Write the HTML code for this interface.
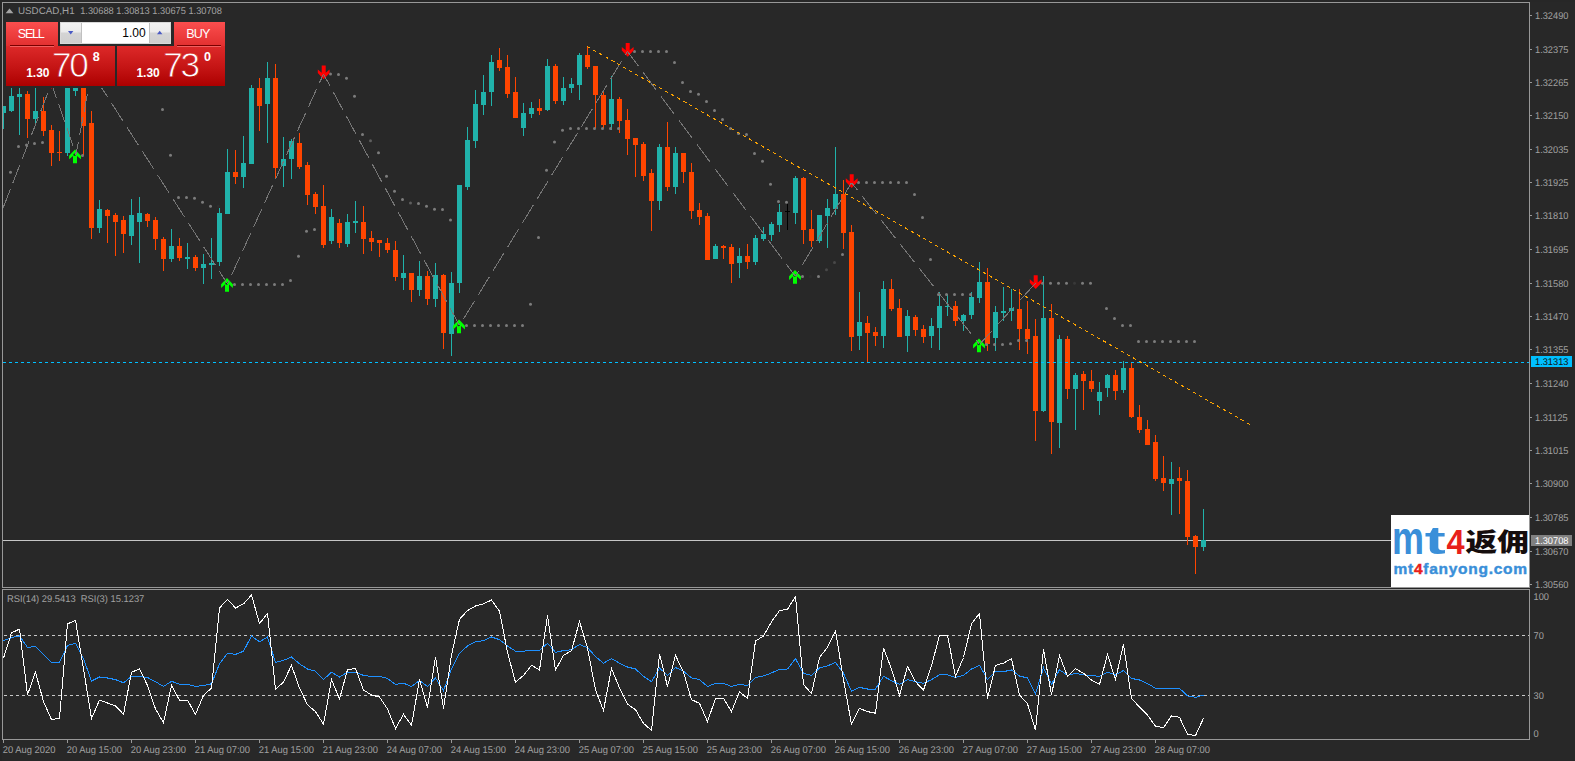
<!DOCTYPE html>
<html><head><meta charset="utf-8"><title>USDCAD,H1</title>
<style>
html,body{margin:0;padding:0;background:#282828;}
body{width:1575px;height:761px;position:relative;overflow:hidden;font-family:"Liberation Sans",sans-serif;}
.abs{position:absolute;}
.red{background:linear-gradient(#fb4e4e 0%,#de2a2a 38%,#c81616 70%,#ad0000 100%);}
.w{color:#fff;position:absolute;white-space:nowrap;line-height:1;}
#logo{left:1391px;top:515px;width:138px;height:72px;background:#fff;overflow:hidden;}
</style></head><body>
<svg width="1575" height="761" viewBox="0 0 1575 761" style="position:absolute;left:0;top:0">
<rect x="0" y="0" width="2" height="761" fill="#262626"/>
<rect x="0" y="0" width="1575" height="2" fill="#272727"/>
<defs><clipPath id="cm"><rect x="3" y="3" width="1526" height="584"/></clipPath><clipPath id="cr"><rect x="3" y="590" width="1526" height="149"/></clipPath></defs>
<g clip-path="url(#cm)">
<rect x="3" y="540" width="1526" height="1" fill="#c6c6c6" shape-rendering="crispEdges"/>
<g shape-rendering="crispEdges">
<rect x="3" y="106" width="1" height="23" fill="#20b2aa"/>
<rect x="1" y="106" width="5" height="7" fill="#20b2aa"/>
<rect x="11" y="80" width="1" height="32" fill="#20b2aa"/>
<rect x="9" y="96" width="5" height="15" fill="#20b2aa"/>
<rect x="19" y="80" width="1" height="55" fill="#20b2aa"/>
<rect x="17" y="94" width="5" height="3" fill="#20b2aa"/>
<rect x="27" y="91" width="1" height="47" fill="#ff4500"/>
<rect x="25" y="94" width="5" height="25" fill="#ff4500"/>
<rect x="35" y="80" width="1" height="43" fill="#20b2aa"/>
<rect x="33" y="111" width="5" height="8" fill="#20b2aa"/>
<rect x="43" y="97" width="1" height="39" fill="#ff4500"/>
<rect x="41" y="111" width="5" height="20" fill="#ff4500"/>
<rect x="51" y="125" width="1" height="41" fill="#ff4500"/>
<rect x="49" y="130" width="5" height="23" fill="#ff4500"/>
<rect x="59" y="131" width="1" height="30" fill="#ff4500"/>
<rect x="57" y="152" width="5" height="1" fill="#ff4500"/>
<rect x="67" y="80" width="1" height="76" fill="#20b2aa"/>
<rect x="65" y="88" width="5" height="65" fill="#20b2aa"/>
<rect x="75" y="80" width="1" height="16" fill="#20b2aa"/>
<rect x="73" y="88" width="5" height="3" fill="#20b2aa"/>
<rect x="83" y="80" width="1" height="75" fill="#ff4500"/>
<rect x="81" y="80" width="5" height="46" fill="#ff4500"/>
<rect x="91" y="111" width="1" height="128" fill="#ff4500"/>
<rect x="89" y="123" width="5" height="105" fill="#ff4500"/>
<rect x="99" y="200" width="1" height="33" fill="#20b2aa"/>
<rect x="97" y="209" width="5" height="19" fill="#20b2aa"/>
<rect x="107" y="209" width="1" height="34" fill="#ff4500"/>
<rect x="105" y="210" width="5" height="6" fill="#ff4500"/>
<rect x="115" y="213" width="1" height="43" fill="#ff4500"/>
<rect x="113" y="215" width="5" height="7" fill="#ff4500"/>
<rect x="123" y="216" width="1" height="37" fill="#ff4500"/>
<rect x="121" y="220" width="5" height="14" fill="#ff4500"/>
<rect x="131" y="199" width="1" height="46" fill="#20b2aa"/>
<rect x="129" y="215" width="5" height="21" fill="#20b2aa"/>
<rect x="139" y="197" width="1" height="66" fill="#20b2aa"/>
<rect x="137" y="213" width="5" height="9" fill="#20b2aa"/>
<rect x="147" y="213" width="1" height="14" fill="#ff4500"/>
<rect x="145" y="214" width="5" height="7" fill="#ff4500"/>
<rect x="155" y="217" width="1" height="33" fill="#ff4500"/>
<rect x="153" y="220" width="5" height="19" fill="#ff4500"/>
<rect x="163" y="237" width="1" height="34" fill="#ff4500"/>
<rect x="161" y="239" width="5" height="20" fill="#ff4500"/>
<rect x="171" y="229" width="1" height="33" fill="#20b2aa"/>
<rect x="169" y="246" width="5" height="13" fill="#20b2aa"/>
<rect x="179" y="238" width="1" height="23" fill="#ff4500"/>
<rect x="177" y="246" width="5" height="12" fill="#ff4500"/>
<rect x="187" y="243" width="1" height="26" fill="#20b2aa"/>
<rect x="185" y="257" width="5" height="2" fill="#20b2aa"/>
<rect x="195" y="255" width="1" height="16" fill="#ff4500"/>
<rect x="193" y="257" width="5" height="11" fill="#ff4500"/>
<rect x="203" y="254" width="1" height="30" fill="#20b2aa"/>
<rect x="201" y="264" width="5" height="4" fill="#20b2aa"/>
<rect x="211" y="238" width="1" height="41" fill="#20b2aa"/>
<rect x="209" y="263" width="5" height="2" fill="#20b2aa"/>
<rect x="219" y="208" width="1" height="58" fill="#20b2aa"/>
<rect x="217" y="213" width="5" height="49" fill="#20b2aa"/>
<rect x="227" y="149" width="1" height="65" fill="#20b2aa"/>
<rect x="225" y="172" width="5" height="42" fill="#20b2aa"/>
<rect x="235" y="150" width="1" height="34" fill="#ff4500"/>
<rect x="233" y="172" width="5" height="5" fill="#ff4500"/>
<rect x="243" y="136" width="1" height="52" fill="#20b2aa"/>
<rect x="241" y="163" width="5" height="14" fill="#20b2aa"/>
<rect x="251" y="85" width="1" height="79" fill="#20b2aa"/>
<rect x="249" y="88" width="5" height="76" fill="#20b2aa"/>
<rect x="259" y="78" width="1" height="53" fill="#ff4500"/>
<rect x="257" y="88" width="5" height="18" fill="#ff4500"/>
<rect x="267" y="62" width="1" height="81" fill="#20b2aa"/>
<rect x="265" y="78" width="5" height="26" fill="#20b2aa"/>
<rect x="275" y="64" width="1" height="114" fill="#ff4500"/>
<rect x="273" y="78" width="5" height="90" fill="#ff4500"/>
<rect x="283" y="137" width="1" height="50" fill="#20b2aa"/>
<rect x="281" y="159" width="5" height="7" fill="#20b2aa"/>
<rect x="291" y="139" width="1" height="40" fill="#20b2aa"/>
<rect x="289" y="141" width="5" height="18" fill="#20b2aa"/>
<rect x="299" y="133" width="1" height="36" fill="#ff4500"/>
<rect x="297" y="143" width="5" height="24" fill="#ff4500"/>
<rect x="307" y="162" width="1" height="43" fill="#ff4500"/>
<rect x="305" y="165" width="5" height="30" fill="#ff4500"/>
<rect x="315" y="192" width="1" height="22" fill="#ff4500"/>
<rect x="313" y="194" width="5" height="13" fill="#ff4500"/>
<rect x="323" y="185" width="1" height="63" fill="#ff4500"/>
<rect x="321" y="206" width="5" height="39" fill="#ff4500"/>
<rect x="331" y="209" width="1" height="35" fill="#20b2aa"/>
<rect x="329" y="217" width="5" height="24" fill="#20b2aa"/>
<rect x="339" y="219" width="1" height="29" fill="#ff4500"/>
<rect x="337" y="223" width="5" height="20" fill="#ff4500"/>
<rect x="347" y="214" width="1" height="33" fill="#20b2aa"/>
<rect x="345" y="222" width="5" height="22" fill="#20b2aa"/>
<rect x="355" y="201" width="1" height="32" fill="#20b2aa"/>
<rect x="353" y="221" width="5" height="2" fill="#20b2aa"/>
<rect x="363" y="206" width="1" height="48" fill="#ff4500"/>
<rect x="361" y="222" width="5" height="17" fill="#ff4500"/>
<rect x="371" y="231" width="1" height="20" fill="#ff4500"/>
<rect x="369" y="238" width="5" height="4" fill="#ff4500"/>
<rect x="379" y="240" width="1" height="17" fill="#ff4500"/>
<rect x="377" y="240" width="5" height="3" fill="#ff4500"/>
<rect x="387" y="238" width="1" height="15" fill="#ff4500"/>
<rect x="385" y="243" width="5" height="7" fill="#ff4500"/>
<rect x="395" y="241" width="1" height="40" fill="#ff4500"/>
<rect x="393" y="250" width="5" height="27" fill="#ff4500"/>
<rect x="403" y="255" width="1" height="35" fill="#20b2aa"/>
<rect x="401" y="273" width="5" height="5" fill="#20b2aa"/>
<rect x="411" y="273" width="1" height="29" fill="#ff4500"/>
<rect x="409" y="273" width="5" height="17" fill="#ff4500"/>
<rect x="419" y="261" width="1" height="35" fill="#20b2aa"/>
<rect x="417" y="276" width="5" height="14" fill="#20b2aa"/>
<rect x="427" y="271" width="1" height="34" fill="#ff4500"/>
<rect x="425" y="276" width="5" height="23" fill="#ff4500"/>
<rect x="435" y="263" width="1" height="44" fill="#20b2aa"/>
<rect x="433" y="275" width="5" height="24" fill="#20b2aa"/>
<rect x="443" y="274" width="1" height="75" fill="#ff4500"/>
<rect x="441" y="275" width="5" height="58" fill="#ff4500"/>
<rect x="451" y="272" width="1" height="84" fill="#20b2aa"/>
<rect x="449" y="283" width="5" height="51" fill="#20b2aa"/>
<rect x="459" y="185" width="1" height="108" fill="#20b2aa"/>
<rect x="457" y="185" width="5" height="98" fill="#20b2aa"/>
<rect x="467" y="127" width="1" height="63" fill="#20b2aa"/>
<rect x="465" y="140" width="5" height="47" fill="#20b2aa"/>
<rect x="475" y="90" width="1" height="58" fill="#20b2aa"/>
<rect x="473" y="104" width="5" height="37" fill="#20b2aa"/>
<rect x="483" y="75" width="1" height="40" fill="#20b2aa"/>
<rect x="481" y="92" width="5" height="13" fill="#20b2aa"/>
<rect x="491" y="55" width="1" height="51" fill="#20b2aa"/>
<rect x="489" y="62" width="5" height="30" fill="#20b2aa"/>
<rect x="499" y="48" width="1" height="23" fill="#ff4500"/>
<rect x="497" y="60" width="5" height="8" fill="#ff4500"/>
<rect x="507" y="55" width="1" height="43" fill="#ff4500"/>
<rect x="505" y="67" width="5" height="27" fill="#ff4500"/>
<rect x="515" y="77" width="1" height="41" fill="#ff4500"/>
<rect x="513" y="92" width="5" height="26" fill="#ff4500"/>
<rect x="523" y="103" width="1" height="33" fill="#20b2aa"/>
<rect x="521" y="113" width="5" height="15" fill="#20b2aa"/>
<rect x="531" y="102" width="1" height="16" fill="#20b2aa"/>
<rect x="529" y="108" width="5" height="6" fill="#20b2aa"/>
<rect x="539" y="99" width="1" height="16" fill="#ff4500"/>
<rect x="537" y="108" width="5" height="3" fill="#ff4500"/>
<rect x="547" y="59" width="1" height="52" fill="#20b2aa"/>
<rect x="545" y="66" width="5" height="44" fill="#20b2aa"/>
<rect x="555" y="64" width="1" height="40" fill="#ff4500"/>
<rect x="553" y="66" width="5" height="35" fill="#ff4500"/>
<rect x="563" y="77" width="1" height="28" fill="#20b2aa"/>
<rect x="561" y="88" width="5" height="13" fill="#20b2aa"/>
<rect x="571" y="78" width="1" height="15" fill="#20b2aa"/>
<rect x="569" y="84" width="5" height="4" fill="#20b2aa"/>
<rect x="579" y="53" width="1" height="47" fill="#20b2aa"/>
<rect x="577" y="55" width="5" height="30" fill="#20b2aa"/>
<rect x="587" y="47" width="1" height="22" fill="#ff4500"/>
<rect x="585" y="55" width="5" height="12" fill="#ff4500"/>
<rect x="595" y="66" width="1" height="62" fill="#ff4500"/>
<rect x="593" y="66" width="5" height="29" fill="#ff4500"/>
<rect x="603" y="91" width="1" height="37" fill="#ff4500"/>
<rect x="601" y="95" width="5" height="30" fill="#ff4500"/>
<rect x="611" y="76" width="1" height="54" fill="#20b2aa"/>
<rect x="609" y="99" width="5" height="25" fill="#20b2aa"/>
<rect x="619" y="97" width="1" height="36" fill="#ff4500"/>
<rect x="617" y="99" width="5" height="22" fill="#ff4500"/>
<rect x="627" y="109" width="1" height="46" fill="#ff4500"/>
<rect x="625" y="120" width="5" height="19" fill="#ff4500"/>
<rect x="635" y="138" width="1" height="39" fill="#ff4500"/>
<rect x="633" y="138" width="5" height="7" fill="#ff4500"/>
<rect x="643" y="142" width="1" height="39" fill="#ff4500"/>
<rect x="641" y="144" width="5" height="32" fill="#ff4500"/>
<rect x="651" y="169" width="1" height="62" fill="#ff4500"/>
<rect x="649" y="173" width="5" height="28" fill="#ff4500"/>
<rect x="659" y="144" width="1" height="66" fill="#20b2aa"/>
<rect x="657" y="147" width="5" height="54" fill="#20b2aa"/>
<rect x="667" y="122" width="1" height="69" fill="#ff4500"/>
<rect x="665" y="147" width="5" height="40" fill="#ff4500"/>
<rect x="675" y="147" width="1" height="47" fill="#20b2aa"/>
<rect x="673" y="153" width="5" height="34" fill="#20b2aa"/>
<rect x="683" y="153" width="1" height="30" fill="#ff4500"/>
<rect x="681" y="153" width="5" height="19" fill="#ff4500"/>
<rect x="691" y="163" width="1" height="56" fill="#ff4500"/>
<rect x="689" y="172" width="5" height="39" fill="#ff4500"/>
<rect x="699" y="203" width="1" height="22" fill="#ff4500"/>
<rect x="697" y="210" width="5" height="7" fill="#ff4500"/>
<rect x="707" y="213" width="1" height="47" fill="#ff4500"/>
<rect x="705" y="216" width="5" height="44" fill="#ff4500"/>
<rect x="715" y="244" width="1" height="15" fill="#20b2aa"/>
<rect x="713" y="246" width="5" height="13" fill="#20b2aa"/>
<rect x="723" y="245" width="1" height="14" fill="#ff4500"/>
<rect x="721" y="246" width="5" height="2" fill="#ff4500"/>
<rect x="731" y="244" width="1" height="39" fill="#ff4500"/>
<rect x="729" y="247" width="5" height="17" fill="#ff4500"/>
<rect x="739" y="248" width="1" height="30" fill="#20b2aa"/>
<rect x="737" y="256" width="5" height="7" fill="#20b2aa"/>
<rect x="747" y="244" width="1" height="25" fill="#ff4500"/>
<rect x="745" y="256" width="5" height="6" fill="#ff4500"/>
<rect x="755" y="235" width="1" height="30" fill="#20b2aa"/>
<rect x="753" y="238" width="5" height="24" fill="#20b2aa"/>
<rect x="763" y="227" width="1" height="14" fill="#20b2aa"/>
<rect x="761" y="234" width="5" height="5" fill="#20b2aa"/>
<rect x="771" y="222" width="1" height="19" fill="#20b2aa"/>
<rect x="769" y="224" width="5" height="11" fill="#20b2aa"/>
<rect x="779" y="204" width="1" height="28" fill="#20b2aa"/>
<rect x="777" y="212" width="5" height="13" fill="#20b2aa"/>
<rect x="787" y="204" width="1" height="26" fill="#000000"/>
<rect x="785" y="211" width="5" height="1" fill="#000000"/>
<rect x="795" y="176" width="1" height="48" fill="#20b2aa"/>
<rect x="793" y="178" width="5" height="35" fill="#20b2aa"/>
<rect x="803" y="177" width="1" height="67" fill="#ff4500"/>
<rect x="801" y="178" width="5" height="52" fill="#ff4500"/>
<rect x="811" y="210" width="1" height="37" fill="#ff4500"/>
<rect x="809" y="229" width="5" height="12" fill="#ff4500"/>
<rect x="819" y="215" width="1" height="28" fill="#20b2aa"/>
<rect x="817" y="215" width="5" height="26" fill="#20b2aa"/>
<rect x="827" y="199" width="1" height="49" fill="#20b2aa"/>
<rect x="825" y="208" width="5" height="8" fill="#20b2aa"/>
<rect x="835" y="147" width="1" height="68" fill="#20b2aa"/>
<rect x="833" y="194" width="5" height="15" fill="#20b2aa"/>
<rect x="843" y="180" width="1" height="69" fill="#ff4500"/>
<rect x="841" y="194" width="5" height="39" fill="#ff4500"/>
<rect x="851" y="225" width="1" height="126" fill="#ff4500"/>
<rect x="849" y="232" width="5" height="105" fill="#ff4500"/>
<rect x="859" y="292" width="1" height="58" fill="#20b2aa"/>
<rect x="857" y="322" width="5" height="14" fill="#20b2aa"/>
<rect x="867" y="316" width="1" height="46" fill="#ff4500"/>
<rect x="865" y="323" width="5" height="10" fill="#ff4500"/>
<rect x="875" y="327" width="1" height="19" fill="#ff4500"/>
<rect x="873" y="332" width="5" height="4" fill="#ff4500"/>
<rect x="883" y="281" width="1" height="67" fill="#20b2aa"/>
<rect x="881" y="289" width="5" height="47" fill="#20b2aa"/>
<rect x="891" y="279" width="1" height="32" fill="#ff4500"/>
<rect x="889" y="289" width="5" height="20" fill="#ff4500"/>
<rect x="899" y="299" width="1" height="38" fill="#ff4500"/>
<rect x="897" y="308" width="5" height="29" fill="#ff4500"/>
<rect x="907" y="310" width="1" height="42" fill="#20b2aa"/>
<rect x="905" y="316" width="5" height="20" fill="#20b2aa"/>
<rect x="915" y="315" width="1" height="21" fill="#ff4500"/>
<rect x="913" y="317" width="5" height="13" fill="#ff4500"/>
<rect x="923" y="325" width="1" height="18" fill="#ff4500"/>
<rect x="921" y="329" width="5" height="8" fill="#ff4500"/>
<rect x="931" y="318" width="1" height="30" fill="#20b2aa"/>
<rect x="929" y="326" width="5" height="10" fill="#20b2aa"/>
<rect x="939" y="292" width="1" height="58" fill="#20b2aa"/>
<rect x="937" y="306" width="5" height="22" fill="#20b2aa"/>
<rect x="947" y="294" width="1" height="22" fill="#20b2aa"/>
<rect x="945" y="306" width="5" height="1" fill="#20b2aa"/>
<rect x="955" y="301" width="1" height="25" fill="#ff4500"/>
<rect x="953" y="306" width="5" height="15" fill="#ff4500"/>
<rect x="963" y="314" width="1" height="17" fill="#20b2aa"/>
<rect x="961" y="315" width="5" height="6" fill="#20b2aa"/>
<rect x="971" y="292" width="1" height="27" fill="#20b2aa"/>
<rect x="969" y="297" width="5" height="18" fill="#20b2aa"/>
<rect x="979" y="262" width="1" height="41" fill="#20b2aa"/>
<rect x="977" y="282" width="5" height="16" fill="#20b2aa"/>
<rect x="987" y="268" width="1" height="83" fill="#ff4500"/>
<rect x="985" y="282" width="5" height="62" fill="#ff4500"/>
<rect x="995" y="306" width="1" height="45" fill="#20b2aa"/>
<rect x="993" y="312" width="5" height="26" fill="#20b2aa"/>
<rect x="1003" y="287" width="1" height="34" fill="#20b2aa"/>
<rect x="1001" y="311" width="5" height="2" fill="#20b2aa"/>
<rect x="1011" y="289" width="1" height="32" fill="#20b2aa"/>
<rect x="1009" y="308" width="5" height="3" fill="#20b2aa"/>
<rect x="1019" y="289" width="1" height="61" fill="#ff4500"/>
<rect x="1017" y="309" width="5" height="20" fill="#ff4500"/>
<rect x="1027" y="301" width="1" height="53" fill="#ff4500"/>
<rect x="1025" y="329" width="5" height="10" fill="#ff4500"/>
<rect x="1035" y="319" width="1" height="122" fill="#ff4500"/>
<rect x="1033" y="336" width="5" height="75" fill="#ff4500"/>
<rect x="1043" y="276" width="1" height="136" fill="#20b2aa"/>
<rect x="1041" y="318" width="5" height="93" fill="#20b2aa"/>
<rect x="1051" y="304" width="1" height="150" fill="#ff4500"/>
<rect x="1049" y="318" width="5" height="104" fill="#ff4500"/>
<rect x="1059" y="335" width="1" height="113" fill="#20b2aa"/>
<rect x="1057" y="339" width="5" height="84" fill="#20b2aa"/>
<rect x="1067" y="336" width="1" height="63" fill="#ff4500"/>
<rect x="1065" y="339" width="5" height="50" fill="#ff4500"/>
<rect x="1075" y="373" width="1" height="57" fill="#20b2aa"/>
<rect x="1073" y="375" width="5" height="14" fill="#20b2aa"/>
<rect x="1083" y="371" width="1" height="39" fill="#ff4500"/>
<rect x="1081" y="374" width="5" height="7" fill="#ff4500"/>
<rect x="1091" y="370" width="1" height="22" fill="#ff4500"/>
<rect x="1089" y="381" width="5" height="8" fill="#ff4500"/>
<rect x="1099" y="382" width="1" height="33" fill="#20b2aa"/>
<rect x="1097" y="392" width="5" height="9" fill="#20b2aa"/>
<rect x="1107" y="374" width="1" height="23" fill="#20b2aa"/>
<rect x="1105" y="375" width="5" height="13" fill="#20b2aa"/>
<rect x="1115" y="370" width="1" height="30" fill="#ff4500"/>
<rect x="1113" y="375" width="5" height="16" fill="#ff4500"/>
<rect x="1123" y="361" width="1" height="32" fill="#20b2aa"/>
<rect x="1121" y="368" width="5" height="22" fill="#20b2aa"/>
<rect x="1131" y="363" width="1" height="55" fill="#ff4500"/>
<rect x="1129" y="368" width="5" height="49" fill="#ff4500"/>
<rect x="1139" y="405" width="1" height="28" fill="#ff4500"/>
<rect x="1137" y="417" width="5" height="13" fill="#ff4500"/>
<rect x="1147" y="420" width="1" height="25" fill="#ff4500"/>
<rect x="1145" y="429" width="5" height="16" fill="#ff4500"/>
<rect x="1155" y="435" width="1" height="46" fill="#ff4500"/>
<rect x="1153" y="442" width="5" height="37" fill="#ff4500"/>
<rect x="1163" y="456" width="1" height="35" fill="#ff4500"/>
<rect x="1161" y="478" width="5" height="5" fill="#ff4500"/>
<rect x="1171" y="462" width="1" height="53" fill="#20b2aa"/>
<rect x="1169" y="479" width="5" height="5" fill="#20b2aa"/>
<rect x="1179" y="467" width="1" height="47" fill="#ff4500"/>
<rect x="1177" y="478" width="5" height="3" fill="#ff4500"/>
<rect x="1187" y="470" width="1" height="75" fill="#ff4500"/>
<rect x="1185" y="481" width="5" height="56" fill="#ff4500"/>
<rect x="1195" y="535" width="1" height="39" fill="#ff4500"/>
<rect x="1193" y="536" width="5" height="11" fill="#ff4500"/>
<rect x="1203" y="509" width="1" height="42" fill="#20b2aa"/>
<rect x="1201" y="540" width="5" height="7" fill="#20b2aa"/>
</g>
<circle cx="2.5" cy="206.8" r="1.5" fill="#7c7c7c"/>
<circle cx="10.5" cy="172.2" r="1.5" fill="#7c7c7c"/>
<circle cx="18.5" cy="146.4" r="1.5" fill="#7c7c7c"/>
<circle cx="26.5" cy="145.1" r="1.5" fill="#7c7c7c"/>
<circle cx="34.5" cy="143.5" r="1.5" fill="#7c7c7c"/>
<circle cx="42.5" cy="142.5" r="1.5" fill="#7c7c7c"/>
<circle cx="82.5" cy="155.4" r="1.5" fill="#7c7c7c"/>
<circle cx="162.5" cy="109.4" r="1.5" fill="#7c7c7c"/>
<circle cx="170.5" cy="155.3" r="1.5" fill="#7c7c7c"/>
<circle cx="178.5" cy="197.4" r="1.5" fill="#7c7c7c"/>
<circle cx="186.5" cy="197.4" r="1.5" fill="#7c7c7c"/>
<circle cx="194.5" cy="198.3" r="1.5" fill="#7c7c7c"/>
<circle cx="202.5" cy="202.2" r="1.5" fill="#7c7c7c"/>
<circle cx="210.5" cy="206.3" r="1.5" fill="#7c7c7c"/>
<circle cx="218.5" cy="206.3" r="1.5" fill="#2e2e2e"/>
<circle cx="234.5" cy="284.4" r="1.5" fill="#7c7c7c"/>
<circle cx="242.5" cy="284.4" r="1.5" fill="#7c7c7c"/>
<circle cx="250.5" cy="284.4" r="1.5" fill="#7c7c7c"/>
<circle cx="258.5" cy="284.4" r="1.5" fill="#7c7c7c"/>
<circle cx="266.5" cy="284.4" r="1.5" fill="#7c7c7c"/>
<circle cx="274.5" cy="284.4" r="1.5" fill="#7c7c7c"/>
<circle cx="282.5" cy="284.4" r="1.5" fill="#7c7c7c"/>
<circle cx="290.5" cy="280.6" r="1.5" fill="#7c7c7c"/>
<circle cx="298.5" cy="256.2" r="1.5" fill="#7c7c7c"/>
<circle cx="306.5" cy="231.3" r="1.5" fill="#7c7c7c"/>
<circle cx="314.5" cy="229.5" r="1.5" fill="#7c7c7c"/>
<circle cx="330.5" cy="74" r="1.5" fill="#7c7c7c"/>
<circle cx="338.5" cy="74.5" r="1.5" fill="#7c7c7c"/>
<circle cx="346.5" cy="78.3" r="1.5" fill="#7c7c7c"/>
<circle cx="354.5" cy="96.3" r="1.5" fill="#7c7c7c"/>
<circle cx="362.5" cy="134.4" r="1.5" fill="#7c7c7c"/>
<circle cx="370.5" cy="140.8" r="1.5" fill="#5e5e5e"/>
<circle cx="378.5" cy="152.7" r="1.5" fill="#7c7c7c"/>
<circle cx="386.5" cy="176.3" r="1.5" fill="#7c7c7c"/>
<circle cx="394.5" cy="191.3" r="1.5" fill="#7c7c7c"/>
<circle cx="402.5" cy="199.6" r="1.5" fill="#7c7c7c"/>
<circle cx="410.5" cy="202.9" r="1.5" fill="#5e5e5e"/>
<circle cx="418.5" cy="203.4" r="1.5" fill="#7c7c7c"/>
<circle cx="426.5" cy="206.2" r="1.5" fill="#7c7c7c"/>
<circle cx="434.5" cy="209.2" r="1.5" fill="#7c7c7c"/>
<circle cx="442.5" cy="209.5" r="1.5" fill="#7c7c7c"/>
<circle cx="450.5" cy="220.1" r="1.5" fill="#7c7c7c"/>
<circle cx="466.5" cy="325.5" r="1.5" fill="#7c7c7c"/>
<circle cx="474.5" cy="325.5" r="1.5" fill="#7c7c7c"/>
<circle cx="482.5" cy="325.5" r="1.5" fill="#7c7c7c"/>
<circle cx="490.5" cy="325.5" r="1.5" fill="#7c7c7c"/>
<circle cx="498.5" cy="325.5" r="1.5" fill="#7c7c7c"/>
<circle cx="506.5" cy="325.5" r="1.5" fill="#7c7c7c"/>
<circle cx="514.5" cy="325.5" r="1.5" fill="#7c7c7c"/>
<circle cx="522.5" cy="325.5" r="1.5" fill="#7c7c7c"/>
<circle cx="530.5" cy="304.2" r="1.5" fill="#7c7c7c"/>
<circle cx="538.5" cy="237.4" r="1.5" fill="#7c7c7c"/>
<circle cx="546.5" cy="170.2" r="1.5" fill="#7c7c7c"/>
<circle cx="554.5" cy="142" r="1.5" fill="#7c7c7c"/>
<circle cx="562.5" cy="130.3" r="1.5" fill="#7c7c7c"/>
<circle cx="570.5" cy="128.5" r="1.5" fill="#7c7c7c"/>
<circle cx="578.5" cy="128.5" r="1.5" fill="#7c7c7c"/>
<circle cx="586.5" cy="128.5" r="1.5" fill="#7c7c7c"/>
<circle cx="594.5" cy="128.5" r="1.5" fill="#7c7c7c"/>
<circle cx="602.5" cy="128.5" r="1.5" fill="#7c7c7c"/>
<circle cx="610.5" cy="128.5" r="1.5" fill="#7c7c7c"/>
<circle cx="618.5" cy="128.5" r="1.5" fill="#7c7c7c"/>
<circle cx="634.5" cy="51.5" r="1.5" fill="#7c7c7c"/>
<circle cx="642.5" cy="51.5" r="1.5" fill="#7c7c7c"/>
<circle cx="650.5" cy="51.5" r="1.5" fill="#7c7c7c"/>
<circle cx="658.5" cy="51.5" r="1.5" fill="#7c7c7c"/>
<circle cx="666.5" cy="51.5" r="1.5" fill="#7c7c7c"/>
<circle cx="674.5" cy="62.5" r="1.5" fill="#7c7c7c"/>
<circle cx="682.5" cy="82.6" r="1.5" fill="#7c7c7c"/>
<circle cx="690.5" cy="91.5" r="1.5" fill="#7c7c7c"/>
<circle cx="698.5" cy="94.3" r="1.5" fill="#7c7c7c"/>
<circle cx="706.5" cy="101.6" r="1.5" fill="#7c7c7c"/>
<circle cx="714.5" cy="110.5" r="1.5" fill="#7c7c7c"/>
<circle cx="722.5" cy="119.4" r="1.5" fill="#7c7c7c"/>
<circle cx="730.5" cy="128.5" r="1.5" fill="#7c7c7c"/>
<circle cx="738.5" cy="133.4" r="1.5" fill="#7c7c7c"/>
<circle cx="746.5" cy="134.4" r="1.5" fill="#7c7c7c"/>
<circle cx="754.5" cy="153.4" r="1.5" fill="#7c7c7c"/>
<circle cx="762.5" cy="161.3" r="1.5" fill="#7c7c7c"/>
<circle cx="770.5" cy="184.2" r="1.5" fill="#7c7c7c"/>
<circle cx="778.5" cy="201.4" r="1.5" fill="#7c7c7c"/>
<circle cx="786.5" cy="202.2" r="1.5" fill="#7c7c7c"/>
<circle cx="802.5" cy="276.5" r="1.5" fill="#7c7c7c"/>
<circle cx="810.5" cy="276.5" r="1.5" fill="#2e2e2e"/>
<circle cx="818.5" cy="276.5" r="1.5" fill="#7c7c7c"/>
<circle cx="826.5" cy="269.7" r="1.5" fill="#484848"/>
<circle cx="834.5" cy="262.6" r="1.5" fill="#484848"/>
<circle cx="842.5" cy="254.4" r="1.5" fill="#7c7c7c"/>
<circle cx="858.5" cy="182.6" r="1.5" fill="#7c7c7c"/>
<circle cx="866.5" cy="182.6" r="1.5" fill="#7c7c7c"/>
<circle cx="874.5" cy="182.6" r="1.5" fill="#7c7c7c"/>
<circle cx="882.5" cy="182.6" r="1.5" fill="#7c7c7c"/>
<circle cx="890.5" cy="182.6" r="1.5" fill="#7c7c7c"/>
<circle cx="898.5" cy="182.6" r="1.5" fill="#7c7c7c"/>
<circle cx="906.5" cy="182.6" r="1.5" fill="#7c7c7c"/>
<circle cx="914.5" cy="194.5" r="1.5" fill="#7c7c7c"/>
<circle cx="922.5" cy="217.4" r="1.5" fill="#7c7c7c"/>
<circle cx="930.5" cy="259.5" r="1.5" fill="#7c7c7c"/>
<circle cx="938.5" cy="294.4" r="1.5" fill="#7c7c7c"/>
<circle cx="946.5" cy="294.4" r="1.5" fill="#7c7c7c"/>
<circle cx="954.5" cy="294.4" r="1.5" fill="#7c7c7c"/>
<circle cx="962.5" cy="294.4" r="1.5" fill="#7c7c7c"/>
<circle cx="970.5" cy="294.4" r="1.5" fill="#7c7c7c"/>
<circle cx="986.5" cy="344.4" r="1.5" fill="#7c7c7c"/>
<circle cx="994.5" cy="344.4" r="1.5" fill="#7c7c7c"/>
<circle cx="1002.5" cy="344.4" r="1.5" fill="#7c7c7c"/>
<circle cx="1010.5" cy="343.7" r="1.5" fill="#7c7c7c"/>
<circle cx="1018.5" cy="340.6" r="1.5" fill="#7c7c7c"/>
<circle cx="1026.5" cy="340.6" r="1.5" fill="#7c7c7c"/>
<circle cx="1042.5" cy="283.3" r="1.5" fill="#7c7c7c"/>
<circle cx="1050.5" cy="283.3" r="1.5" fill="#7c7c7c"/>
<circle cx="1058.5" cy="283.3" r="1.5" fill="#7c7c7c"/>
<circle cx="1066.5" cy="283.3" r="1.5" fill="#7c7c7c"/>
<circle cx="1074.5" cy="283.3" r="1.5" fill="#383838"/>
<circle cx="1082.5" cy="283.3" r="1.5" fill="#7c7c7c"/>
<circle cx="1090.5" cy="283.3" r="1.5" fill="#7c7c7c"/>
<circle cx="1106.5" cy="308.4" r="1.5" fill="#7c7c7c"/>
<circle cx="1114.5" cy="318.4" r="1.5" fill="#7c7c7c"/>
<circle cx="1122.5" cy="325.5" r="1.5" fill="#7c7c7c"/>
<circle cx="1130.5" cy="325.5" r="1.5" fill="#7c7c7c"/>
<circle cx="1138.5" cy="341.4" r="1.5" fill="#7c7c7c"/>
<circle cx="1146.5" cy="341.4" r="1.5" fill="#7c7c7c"/>
<circle cx="1154.5" cy="341.4" r="1.5" fill="#7c7c7c"/>
<circle cx="1162.5" cy="341.4" r="1.5" fill="#7c7c7c"/>
<circle cx="1170.5" cy="341.4" r="1.5" fill="#7c7c7c"/>
<circle cx="1178.5" cy="341.4" r="1.5" fill="#7c7c7c"/>
<circle cx="1186.5" cy="341.4" r="1.5" fill="#7c7c7c"/>
<circle cx="1194.5" cy="341.4" r="1.5" fill="#7c7c7c"/>
<polygon points="49.7,75.0 53.7,75.0 53.7,82.3 57.6,78.9 57.6,82.5 51.7,88.8 45.8,82.5 45.8,78.9 49.7,82.3" fill="#ff0000"/>
<polygon points="73.0,163.2 77.0,163.2 77.0,155.9 80.9,159.3 80.9,155.7 75.0,149.4 69.1,155.7 69.1,159.3 73.0,155.9" fill="#00ff00"/>
<circle cx="74.6" cy="154.8" r="1.25" fill="#1f2f1f"/>
<polygon points="89.7,60.0 93.7,60.0 93.7,67.3 97.6,63.9 97.6,67.5 91.7,73.8 85.8,67.5 85.8,63.9 89.7,67.3" fill="#ff0000"/>
<polygon points="225.0,291.8 229.0,291.8 229.0,284.5 232.9,287.9 232.9,284.3 227.0,278.0 221.1,284.3 221.1,287.9 225.0,284.5" fill="#00ff00"/>
<circle cx="226.6" cy="283.4" r="1.25" fill="#1f2f1f"/>
<polygon points="321.7,65.5 325.7,65.5 325.7,72.8 329.6,69.4 329.6,73.0 323.7,79.3 317.8,73.0 317.8,69.4 321.7,72.8" fill="#ff0000"/>
<polygon points="457.0,333.3 461.0,333.3 461.0,326.0 464.9,329.4 464.9,325.8 459.0,319.5 453.1,325.8 453.1,329.4 457.0,326.0" fill="#00ff00"/>
<circle cx="458.6" cy="324.9" r="1.25" fill="#1f2f1f"/>
<polygon points="625.7,43.0 629.7,43.0 629.7,50.3 633.6,46.9 633.6,50.5 627.7,56.8 621.8,50.5 621.8,46.9 625.7,50.3" fill="#ff0000"/>
<polygon points="793.0,283.8 797.0,283.8 797.0,276.5 800.9,279.9 800.9,276.3 795.0,270.0 789.1,276.3 789.1,279.9 793.0,276.5" fill="#00ff00"/>
<circle cx="794.6" cy="275.4" r="1.25" fill="#1f2f1f"/>
<polygon points="849.7,174.3 853.7,174.3 853.7,181.6 857.6,178.2 857.6,181.8 851.7,188.1 845.8,181.8 845.8,178.2 849.7,181.6" fill="#ff0000"/>
<polygon points="977.0,352.3 981.0,352.3 981.0,345.0 984.9,348.4 984.9,344.8 979.0,338.5 973.1,344.8 973.1,348.4 977.0,345.0" fill="#00ff00"/>
<circle cx="978.6" cy="343.9" r="1.25" fill="#1f2f1f"/>
<polygon points="1033.7,275.3 1037.7,275.3 1037.7,282.6 1041.6,279.2 1041.6,282.8 1035.7,289.1 1029.8,282.8 1029.8,279.2 1033.7,282.6" fill="#ff0000"/>
<line x1="2.5" y1="209.5" x2="51.5" y2="83.5" stroke="#767676" stroke-width="1" stroke-dasharray="19.31 6.44" stroke-dashoffset="23.28" shape-rendering="crispEdges"/>
<line x1="51.5" y1="83.5" x2="76" y2="154.5" stroke="#767676" stroke-width="1" stroke-dasharray="19.04 6.35" stroke-dashoffset="3.39" shape-rendering="crispEdges"/>
<line x1="76" y1="154.5" x2="91.5" y2="72" stroke="#767676" stroke-width="1" stroke-dasharray="18.31 6.10" stroke-dashoffset="5.09" shape-rendering="crispEdges"/>
<line x1="91.5" y1="72" x2="227.5" y2="284" stroke="#767676" stroke-width="1" stroke-dasharray="21.39 7.13" stroke-dashoffset="19.96" shape-rendering="crispEdges"/>
<line x1="227.5" y1="284" x2="323.5" y2="74" stroke="#767676" stroke-width="1" stroke-dasharray="19.79 6.60" stroke-dashoffset="16.49" shape-rendering="crispEdges"/>
<line x1="323.5" y1="74" x2="459.5" y2="325.5" stroke="#767676" stroke-width="1" stroke-dasharray="20.46 6.82" stroke-dashoffset="6.59" shape-rendering="crispEdges"/>
<line x1="459.5" y1="325.5" x2="627.5" y2="51.5" stroke="#767676" stroke-width="1" stroke-dasharray="21.11 7.04" stroke-dashoffset="20.41" shape-rendering="crispEdges"/>
<line x1="627.5" y1="51.5" x2="795.5" y2="276.5" stroke="#767676" stroke-width="1" stroke-dasharray="22.46 7.49" stroke-dashoffset="3.87" shape-rendering="crispEdges"/>
<line x1="795.5" y1="276.5" x2="851.5" y2="182.6" stroke="#767676" stroke-width="1" stroke-dasharray="20.96 6.99" stroke-dashoffset="14.32" shape-rendering="crispEdges"/>
<line x1="851.5" y1="182.6" x2="979.5" y2="344.4" stroke="#767676" stroke-width="1" stroke-dasharray="22.95 7.65" stroke-dashoffset="13.52" shape-rendering="crispEdges"/>
<line x1="979.5" y1="344.4" x2="1035.5" y2="283.3" stroke="#767676" stroke-width="1" stroke-dasharray="24.42 8.14" stroke-dashoffset="5.56" shape-rendering="crispEdges"/>
<line x1="587.4" y1="46.5" x2="1250.5" y2="424.8" stroke="#ffa500" stroke-width="1" stroke-dasharray="3.45 3.45" shape-rendering="crispEdges"/>
<line x1="3" y1="362.5" x2="1529" y2="362.5" stroke="#00bfff" stroke-width="1" stroke-dasharray="3 3" shape-rendering="crispEdges"/>
</g>
<g clip-path="url(#cr)">
<line x1="3" y1="635.5" x2="1529" y2="635.5" stroke="#c8c8c8" stroke-width="1" stroke-dasharray="3 3" stroke-dashoffset="5" shape-rendering="crispEdges"/>
<line x1="3" y1="695.5" x2="1529" y2="695.5" stroke="#c8c8c8" stroke-width="1" stroke-dasharray="3 3" stroke-dashoffset="5" shape-rendering="crispEdges"/>
<polyline points="3.5,640.7 11.5,637.6 19.5,636 27.5,647.4 35.5,646.4 43.5,654.4 51.5,662.4 59.5,662.4 67.5,645.5 75.5,643.4 83.5,658.6 91.5,681 99.5,677 107.5,678 115.5,679.6 123.5,682.8 131.5,676.4 139.5,676.4 147.5,677.5 155.5,681.7 163.5,686.5 171.5,681.3 179.5,684.2 187.5,684.2 195.5,686.5 203.5,685.5 211.5,683.8 219.5,663.8 227.5,653.3 235.5,654.4 243.5,651.2 251.5,636 259.5,641.8 267.5,637 275.5,662.4 283.5,660.3 291.5,657 299.5,663.8 307.5,669 315.5,671.2 323.5,679.6 331.5,672.2 339.5,677 347.5,672.2 355.5,672.2 363.5,675.4 371.5,676.4 379.5,676.4 387.5,678.5 395.5,684.4 403.5,683.2 411.5,686.5 419.5,680.6 427.5,686.5 435.5,677.9 443.5,690.7 451.5,669 459.5,653.3 467.5,646 475.5,641.8 483.5,640.7 491.5,637 499.5,639.7 507.5,646 515.5,651.2 523.5,651.2 531.5,650.2 539.5,650.2 547.5,643.4 555.5,652.3 563.5,650.6 571.5,649.7 579.5,644.5 587.5,647.6 595.5,656.5 603.5,663.2 611.5,658.6 619.5,663.2 627.5,667 635.5,669 643.5,676.4 651.5,681.7 659.5,668 667.5,675.4 675.5,667.6 683.5,671.2 691.5,677.9 699.5,679.6 707.5,686.5 715.5,683.4 723.5,683.4 731.5,686.5 739.5,684.4 747.5,685.5 755.5,677.5 763.5,676 771.5,672.9 779.5,669.5 787.5,669 795.5,658.6 803.5,673.3 811.5,675.4 819.5,668 827.5,665.9 835.5,662.4 843.5,673.3 851.5,691.2 859.5,687.4 867.5,689 875.5,689 883.5,676.4 891.5,680.6 899.5,684.4 907.5,679.6 915.5,681.7 923.5,683.4 931.5,679.6 939.5,674.8 947.5,674.8 955.5,677.5 963.5,675.4 971.5,669 979.5,665.3 987.5,679.6 995.5,671.6 1003.5,671.6 1011.5,670 1019.5,676 1027.5,678 1035.5,693.9 1043.5,667.6 1051.5,684.4 1059.5,669.7 1067.5,675.4 1075.5,673.3 1083.5,674.8 1091.5,675.4 1099.5,676.4 1107.5,672.2 1115.5,675 1123.5,670.4 1131.5,678.4 1139.5,680 1147.5,683.5 1155.5,688.3 1163.5,688.3 1171.5,688.3 1179.5,688.3 1187.5,695.9 1195.5,697.3 1203.5,695.2" fill="none" stroke="#1e90ff" stroke-width="1" shape-rendering="crispEdges"/>
<polyline points="3.5,658.2 11.5,632.9 19.5,629.1 27.5,694.7 35.5,672.2 43.5,701.7 51.5,719.5 59.5,718.5 67.5,623.9 75.5,620.3 83.5,669 91.5,718.5 99.5,700.2 107.5,703 115.5,705.9 123.5,714.3 131.5,672.2 139.5,669 147.5,685.5 155.5,709 163.5,722.7 171.5,685.5 179.5,700.2 187.5,700.2 195.5,714.3 203.5,695.4 211.5,688 219.5,608 227.5,599.3 235.5,608 243.5,603.9 251.5,595 259.5,623.5 267.5,613.4 275.5,689.5 283.5,682 291.5,665.3 299.5,688 307.5,704.8 315.5,711.6 323.5,724.2 331.5,679.6 339.5,699.1 347.5,669.7 355.5,668.5 363.5,690 371.5,695 379.5,697 387.5,709 395.5,728.6 403.5,714.3 411.5,725.4 419.5,679.6 427.5,707.6 435.5,657 443.5,708.6 451.5,655 459.5,619.3 467.5,610.6 475.5,606 483.5,603.9 491.5,600 499.5,611.3 507.5,652.3 515.5,682.3 523.5,675.4 531.5,665.3 539.5,670 547.5,615.5 555.5,670 563.5,655.4 571.5,650.6 579.5,621.5 587.5,648 595.5,690 603.5,710.5 611.5,668.5 619.5,688 627.5,704.2 635.5,709.7 643.5,723.3 651.5,730.5 659.5,654 667.5,686.5 675.5,655.4 683.5,672.2 691.5,699.6 699.5,703.4 707.5,721.6 715.5,698.5 723.5,698.5 731.5,711.6 739.5,691.6 747.5,698.5 755.5,641 763.5,636 771.5,621.8 779.5,610.6 787.5,609.2 795.5,596.6 803.5,684.4 811.5,693.7 819.5,657.5 827.5,647.4 835.5,631.2 843.5,679.6 851.5,724.4 859.5,708.4 867.5,711.6 875.5,713.2 883.5,648 891.5,669 899.5,695.4 907.5,666.6 915.5,681.7 923.5,690 931.5,665.9 939.5,635.5 947.5,635.5 955.5,676.4 963.5,657.5 971.5,623.9 979.5,613.4 987.5,698.5 995.5,665.3 1003.5,663.2 1011.5,658.6 1019.5,695 1027.5,703.8 1035.5,730 1043.5,649.5 1051.5,695 1059.5,655.4 1067.5,676.4 1075.5,668.7 1083.5,673.3 1091.5,680 1099.5,684.4 1107.5,654.4 1115.5,679.6 1123.5,644.3 1131.5,698.6 1139.5,706.9 1147.5,715.2 1155.5,726.2 1163.5,727.6 1171.5,715.9 1179.5,717.3 1187.5,734.2 1195.5,735.6 1203.5,718.2" fill="none" stroke="#ffffff" stroke-width="1" shape-rendering="crispEdges"/>
</g>
<g shape-rendering="crispEdges" fill="#989898">
<rect x="2" y="2" width="1528" height="1"/>
<rect x="2" y="2" width="1" height="586"/>
<rect x="1529" y="2" width="1" height="586"/>
<rect x="2" y="587" width="1528" height="1"/>
<rect x="2" y="589" width="1528" height="1"/>
<rect x="2" y="589" width="1" height="151"/>
<rect x="1529" y="589" width="1" height="151"/>
<rect x="2" y="739" width="1528" height="1"/>
</g>
<rect x="0" y="588" width="1530" height="1" fill="#242424"/>
<g font-family="Liberation Sans, sans-serif" font-size="9.8" fill="#a2a2a2" text-rendering="geometricPrecision">
<rect x="1530" y="15" width="2" height="1" fill="#989898" shape-rendering="crispEdges"/>
<text transform="translate(1535,18.7) scale(0.944,1)" xml:space="preserve">1.32490</text>
<rect x="1530" y="49" width="2" height="1" fill="#989898" shape-rendering="crispEdges"/>
<text transform="translate(1535,52.7) scale(0.944,1)" xml:space="preserve">1.32375</text>
<rect x="1530" y="82" width="2" height="1" fill="#989898" shape-rendering="crispEdges"/>
<text transform="translate(1535,85.7) scale(0.944,1)" xml:space="preserve">1.32265</text>
<rect x="1530" y="115" width="2" height="1" fill="#989898" shape-rendering="crispEdges"/>
<text transform="translate(1535,118.7) scale(0.944,1)" xml:space="preserve">1.32150</text>
<rect x="1530" y="149" width="2" height="1" fill="#989898" shape-rendering="crispEdges"/>
<text transform="translate(1535,152.7) scale(0.944,1)" xml:space="preserve">1.32035</text>
<rect x="1530" y="182" width="2" height="1" fill="#989898" shape-rendering="crispEdges"/>
<text transform="translate(1535,185.7) scale(0.944,1)" xml:space="preserve">1.31925</text>
<rect x="1530" y="215" width="2" height="1" fill="#989898" shape-rendering="crispEdges"/>
<text transform="translate(1535,218.7) scale(0.944,1)" xml:space="preserve">1.31810</text>
<rect x="1530" y="249" width="2" height="1" fill="#989898" shape-rendering="crispEdges"/>
<text transform="translate(1535,252.7) scale(0.944,1)" xml:space="preserve">1.31695</text>
<rect x="1530" y="283" width="2" height="1" fill="#989898" shape-rendering="crispEdges"/>
<text transform="translate(1535,286.7) scale(0.944,1)" xml:space="preserve">1.31580</text>
<rect x="1530" y="316" width="2" height="1" fill="#989898" shape-rendering="crispEdges"/>
<text transform="translate(1535,319.7) scale(0.944,1)" xml:space="preserve">1.31470</text>
<rect x="1530" y="349" width="2" height="1" fill="#989898" shape-rendering="crispEdges"/>
<text transform="translate(1535,352.7) scale(0.944,1)" xml:space="preserve">1.31355</text>
<rect x="1530" y="383" width="2" height="1" fill="#989898" shape-rendering="crispEdges"/>
<text transform="translate(1535,386.7) scale(0.944,1)" xml:space="preserve">1.31240</text>
<rect x="1530" y="417" width="2" height="1" fill="#989898" shape-rendering="crispEdges"/>
<text transform="translate(1535,420.7) scale(0.944,1)" xml:space="preserve">1.31125</text>
<rect x="1530" y="450" width="2" height="1" fill="#989898" shape-rendering="crispEdges"/>
<text transform="translate(1535,453.7) scale(0.944,1)" xml:space="preserve">1.31015</text>
<rect x="1530" y="483" width="2" height="1" fill="#989898" shape-rendering="crispEdges"/>
<text transform="translate(1535,486.7) scale(0.944,1)" xml:space="preserve">1.30900</text>
<rect x="1530" y="517" width="2" height="1" fill="#989898" shape-rendering="crispEdges"/>
<text transform="translate(1535,520.7) scale(0.944,1)" xml:space="preserve">1.30785</text>
<rect x="1530" y="551" width="2" height="1" fill="#989898" shape-rendering="crispEdges"/>
<text transform="translate(1535,554.7) scale(0.944,1)" xml:space="preserve">1.30670</text>
<rect x="1530" y="584" width="2" height="1" fill="#989898" shape-rendering="crispEdges"/>
<text transform="translate(1535,587.7) scale(0.944,1)" xml:space="preserve">1.30560</text>
<text transform="translate(1533.5,600.2) scale(0.944,1)" xml:space="preserve">100</text>
<text transform="translate(1533.5,639.2) scale(0.944,1)" xml:space="preserve">70</text>
<text transform="translate(1533.5,699.2) scale(0.944,1)" xml:space="preserve">30</text>
<text transform="translate(1533.5,737.2) scale(0.944,1)" xml:space="preserve">0</text>
<rect x="3" y="740" width="1" height="3" fill="#989898" shape-rendering="crispEdges"/>
<text transform="translate(2.7,753) scale(0.957,1)" xml:space="preserve">20 Aug 2020</text>
<rect x="67" y="740" width="1" height="3" fill="#989898" shape-rendering="crispEdges"/>
<text transform="translate(66.7,753) scale(0.957,1)" xml:space="preserve">20 Aug 15:00</text>
<rect x="131" y="740" width="1" height="3" fill="#989898" shape-rendering="crispEdges"/>
<text transform="translate(130.7,753) scale(0.957,1)" xml:space="preserve">20 Aug 23:00</text>
<rect x="195" y="740" width="1" height="3" fill="#989898" shape-rendering="crispEdges"/>
<text transform="translate(194.7,753) scale(0.957,1)" xml:space="preserve">21 Aug 07:00</text>
<rect x="259" y="740" width="1" height="3" fill="#989898" shape-rendering="crispEdges"/>
<text transform="translate(258.7,753) scale(0.957,1)" xml:space="preserve">21 Aug 15:00</text>
<rect x="323" y="740" width="1" height="3" fill="#989898" shape-rendering="crispEdges"/>
<text transform="translate(322.7,753) scale(0.957,1)" xml:space="preserve">21 Aug 23:00</text>
<rect x="387" y="740" width="1" height="3" fill="#989898" shape-rendering="crispEdges"/>
<text transform="translate(386.7,753) scale(0.957,1)" xml:space="preserve">24 Aug 07:00</text>
<rect x="451" y="740" width="1" height="3" fill="#989898" shape-rendering="crispEdges"/>
<text transform="translate(450.7,753) scale(0.957,1)" xml:space="preserve">24 Aug 15:00</text>
<rect x="515" y="740" width="1" height="3" fill="#989898" shape-rendering="crispEdges"/>
<text transform="translate(514.7,753) scale(0.957,1)" xml:space="preserve">24 Aug 23:00</text>
<rect x="579" y="740" width="1" height="3" fill="#989898" shape-rendering="crispEdges"/>
<text transform="translate(578.7,753) scale(0.957,1)" xml:space="preserve">25 Aug 07:00</text>
<rect x="643" y="740" width="1" height="3" fill="#989898" shape-rendering="crispEdges"/>
<text transform="translate(642.7,753) scale(0.957,1)" xml:space="preserve">25 Aug 15:00</text>
<rect x="707" y="740" width="1" height="3" fill="#989898" shape-rendering="crispEdges"/>
<text transform="translate(706.7,753) scale(0.957,1)" xml:space="preserve">25 Aug 23:00</text>
<rect x="771" y="740" width="1" height="3" fill="#989898" shape-rendering="crispEdges"/>
<text transform="translate(770.7,753) scale(0.957,1)" xml:space="preserve">26 Aug 07:00</text>
<rect x="835" y="740" width="1" height="3" fill="#989898" shape-rendering="crispEdges"/>
<text transform="translate(834.7,753) scale(0.957,1)" xml:space="preserve">26 Aug 15:00</text>
<rect x="899" y="740" width="1" height="3" fill="#989898" shape-rendering="crispEdges"/>
<text transform="translate(898.7,753) scale(0.957,1)" xml:space="preserve">26 Aug 23:00</text>
<rect x="963" y="740" width="1" height="3" fill="#989898" shape-rendering="crispEdges"/>
<text transform="translate(962.7,753) scale(0.957,1)" xml:space="preserve">27 Aug 07:00</text>
<rect x="1027" y="740" width="1" height="3" fill="#989898" shape-rendering="crispEdges"/>
<text transform="translate(1026.7,753) scale(0.957,1)" xml:space="preserve">27 Aug 15:00</text>
<rect x="1091" y="740" width="1" height="3" fill="#989898" shape-rendering="crispEdges"/>
<text transform="translate(1090.7,753) scale(0.957,1)" xml:space="preserve">27 Aug 23:00</text>
<rect x="1155" y="740" width="1" height="3" fill="#989898" shape-rendering="crispEdges"/>
<text transform="translate(1154.7,753) scale(0.957,1)" xml:space="preserve">28 Aug 07:00</text>
<polygon points="5.6,13.2 13.4,13.2 9.5,8.4" fill="#a4a4a4"/>
<text transform="translate(18,14) scale(1.0,1)" xml:space="preserve">USDCAD,H1</text>
<text transform="translate(80.2,14) scale(0.946,1)" xml:space="preserve">1.30688 1.30813 1.30675 1.30708</text>
<text transform="translate(7,602) scale(0.955,1)" xml:space="preserve">RSI(14) 29.5413  RSI(3) 15.1237</text>
</g>
<rect x="1531" y="356" width="41" height="11" fill="#00bfff" shape-rendering="crispEdges"/>
<text transform="translate(1535,364.7) scale(0.944,1)" fill="#101010" font-family="Liberation Sans, sans-serif" font-size="9.8" text-rendering="geometricPrecision" xml:space="preserve">1.31313</text>
<rect x="1531" y="535" width="41" height="11" fill="#808080" shape-rendering="crispEdges"/>
<text transform="translate(1535,543.7) scale(0.944,1)" fill="#ffffff" font-family="Liberation Sans, sans-serif" font-size="9.8" text-rendering="geometricPrecision" xml:space="preserve">1.30708</text>
</svg>
<!-- one click trading panel -->
<div class="abs" style="left:4px;top:20px;width:223px;height:68px;background:#282828"></div>
<div class="abs" style="left:6px;top:22px;width:52px;height:30px;background:linear-gradient(#fb4e4e,#dc2828)"></div>
<div class="abs" style="left:174px;top:22px;width:51px;height:30px;background:linear-gradient(#fb4e4e,#dc2828)"></div>
<div class="abs" style="left:6px;top:46px;width:109px;height:40px;background:linear-gradient(#dd2929 0%,#c41414 55%,#ac0000 100%)"></div>
<div class="abs" style="left:117px;top:46px;width:108px;height:40px;background:linear-gradient(#dd2929 0%,#c41414 55%,#ac0000 100%)"></div>
<div class="abs" style="left:10px;top:45px;width:44px;height:1px;background:#7a0000"></div>
<div class="abs" style="left:10px;top:46px;width:44px;height:1px;background:#f06060"></div>
<div class="abs" style="left:177px;top:45px;width:44px;height:1px;background:#7a0000"></div>
<div class="abs" style="left:177px;top:46px;width:44px;height:1px;background:#f06060"></div>
<div class="w" style="left:17.8px;top:27.5px;font-size:12.6px;letter-spacing:-1.25px">SELL</div>
<div class="w" style="left:186.3px;top:27.5px;font-size:12.6px;letter-spacing:-0.9px">BUY</div>
<div class="abs" style="left:60px;top:22px;width:111px;height:22px;background:#fff;box-sizing:border-box;border:1px solid #d9d9d9"></div>
<div class="abs" style="left:61px;top:23px;width:20px;height:20px;background:linear-gradient(#f2f2f2 0%,#ebebeb 45%,#d4d4d4 50%,#cfcfcf 100%);border-right:1px solid #c0c0c0"></div>
<div class="abs" style="left:149px;top:23px;width:21px;height:20px;background:linear-gradient(#f2f2f2 0%,#ebebeb 45%,#d4d4d4 50%,#cfcfcf 100%);border-left:1px solid #c0c0c0;box-sizing:border-box"></div>
<svg class="abs" style="left:60px;top:22px" width="111" height="22"><polygon points="8,9 13.4,9 10.7,12.4" fill="#4a5ac4"/><polygon points="97,12.2 102.4,12.2 99.7,8.8" fill="#4a5ac4"/></svg>
<div class="abs" style="left:100px;top:26.5px;width:45.6px;text-align:right;font-size:12px;line-height:1;color:#000">1.00</div>
<div class="w" style="left:26.2px;top:67.2px;font-size:12px;font-weight:bold">1.30</div>
<div class="w" style="left:136.4px;top:67.2px;font-size:12px;font-weight:bold">1.30</div>
<svg class="abs" style="left:6px;top:46px" width="219" height="40"><defs><linearGradient id="pg" gradientUnits="userSpaceOnUse" x1="0" y1="0" x2="0" y2="40"><stop offset="0" stop-color="#dd2929"/><stop offset="0.55" stop-color="#c41414"/><stop offset="1" stop-color="#ac0000"/></linearGradient></defs>
<g font-family="Liberation Sans, sans-serif" font-size="35.2" fill="#ffffff" stroke="url(#pg)" stroke-width="0.8" letter-spacing="-2.3"><text x="46.1" y="31.4">70</text><text x="157.3" y="31.4">73</text></g></svg>
<div class="w" style="left:92.8px;top:51.1px;font-size:12.6px;font-weight:bold">8</div>
<div class="w" style="left:204px;top:51.1px;font-size:12.6px;font-weight:bold">0</div>
<!-- logo -->
<div id="logo" class="abs">
<svg class="abs" style="left:0;top:0" width="138" height="72" font-weight="bold" font-family="Liberation Sans, sans-serif">
<text y="38.5"><tspan x="0.9" font-size="46.5" fill="#3a8fd9" textLength="32.0" lengthAdjust="spacingAndGlyphs">m</tspan><tspan x="33.8" font-size="38" fill="#3a8fd9" textLength="21.0" lengthAdjust="spacingAndGlyphs">t</tspan><tspan x="55.6" font-size="35.4" fill="#e8201a" textLength="18.1" lengthAdjust="spacingAndGlyphs">4</tspan><tspan x="74.6" y="35.6" font-size="24.8" font-weight="900" font-family="Liberation Sans, Noto Sans CJK SC, sans-serif" fill="#150d0d" textLength="63.4" lengthAdjust="spacingAndGlyphs">返佣</tspan></text>
</svg>
<div class="abs" style="left:2.5px;top:45.5px;white-space:nowrap;line-height:1;font-weight:bold;font-size:15.5px;letter-spacing:0.73px;-webkit-text-stroke:0.45px currentColor;color:#3a8fd9">mt<span style="color:#e8201a">4</span>fanyong.com</div>
</div>
</body></html>
